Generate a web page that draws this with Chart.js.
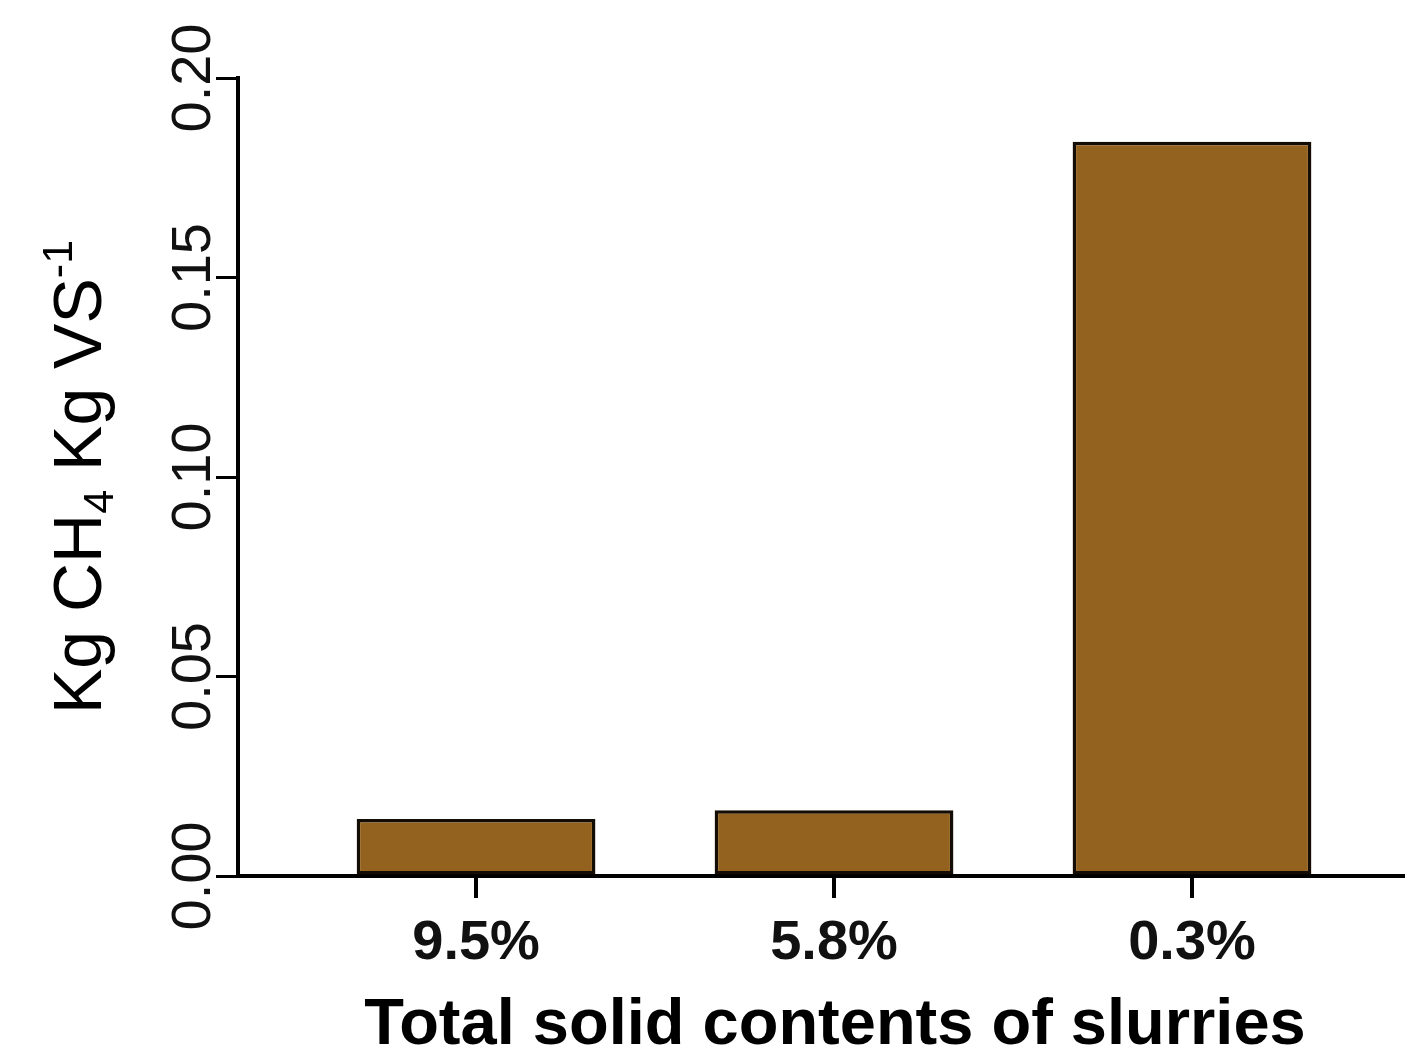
<!DOCTYPE html>
<html>
<head>
<meta charset="utf-8">
<script src="https://cdn.jsdelivr.net/npm/chart.js@4.4.0/dist/chart.umd.min.js"></script>
<style>
  html, body { margin: 0; padding: 0; background: #fff; }
  #wrap { width: 1405px; height: 1050px; position: relative; }
</style>
</head>
<body>
<div id="wrap"><canvas id="c" width="1405" height="1050"></canvas></div>
<script>
// ---- data ----
const categories = ['9.5%', '5.8%', '0.3%'];
const methaneYield = [0.0143, 0.0165, 0.184];
const yTickValues = [0.00, 0.05, 0.10, 0.15, 0.20];
const yTickLabels = ['0.00', '0.05', '0.10', '0.15', '0.20'];
const xAxisTitle = 'Total solid contents of slurries';
const yTitleParts = [
  { text: 'Kg CH', kind: 'n' },
  { text: '4', kind: 'sub' },
  { text: ' Kg VS', kind: 'n' },
  { text: '-1', kind: 'sup' }
];

const FONT = '"Liberation Sans", Arial, Helvetica, sans-serif';

const points = methaneYield.map((v, i) => ({ x: i, y: v }));

const textPlugin = {
  id: 'axisTexts',
  afterDraw(chart) {
    const ctx = chart.ctx;
    const ys = chart.scales.y;
    ctx.save();
    ctx.fillStyle = '#111';
    ctx.font = '56px ' + FONT;
    ctx.textAlign = 'center';
    ctx.textBaseline = 'alphabetic';
    yTickValues.forEach((v, i) => {
      const py = ys.getPixelForValue(v);
      ctx.save();
      ctx.translate(ys.right - 28, py);
      ctx.rotate(-Math.PI / 2);
      ctx.fillText(yTickLabels[i], 0, 0);
      ctx.restore();
    });
    // x axis title
    ctx.save();
    ctx.fillStyle = '#000';
    ctx.font = 'bold 65px ' + FONT;
    ctx.textAlign = 'center';
    ctx.fillText(xAxisTitle, 835, 1044);
    ctx.restore();
    // y axis title with sub/superscript
    const big = 68, small = 43;
    const segs = yTitleParts.map(p => {
      const f = (p.kind === 'n' ? big : small) + 'px ' + FONT;
      ctx.font = f;
      return { ...p, font: f, w: ctx.measureText(p.text).width };
    });
    const total = segs.reduce((a, s) => a + s.w, 0);
    const cy = (chart.chartArea.top + chart.chartArea.bottom) / 2;
    ctx.fillStyle = '#000';
    ctx.translate(101, cy);
    ctx.rotate(-Math.PI / 2);
    ctx.textAlign = 'left';
    let x = -total / 2;
    segs.forEach(s => {
      ctx.font = s.font;
      let dy = 0;
      if (s.kind === 'sub') dy = 12;
      if (s.kind === 'sup') dy = -29;
      ctx.fillText(s.text, x, dy);
      x += s.w;
    });
    ctx.restore();
  }
};

new Chart(document.getElementById('c'), {
  type: 'bar',
  data: {
    datasets: [{
      data: points,
      backgroundColor: 'rgb(148,98,31)',
      borderColor: '#140d05',
      borderWidth: 3.5,
      borderSkipped: false,
      barPercentage: 0.667,
      categoryPercentage: 1.0
    }]
  },
  options: {
    responsive: false,
    animation: false,
    devicePixelRatio: 1,
    layout: { padding: { left: 0, right: 0, top: 78, bottom: 0 } },
    plugins: { legend: { display: false }, tooltip: { enabled: false } },
    scales: {
      x: {
        type: 'linear',
        offset: false,
        min: -0.665,
        max: 2.595,
        afterBuildTicks(scale) { scale.ticks = categories.map((c, i) => ({ value: i })); },
        afterFit(scale) { scale.height = 174; },
        ticks: {
          autoSkip: false,
          maxRotation: 0,
          minRotation: 0,
          padding: 12,
          color: '#111',
          font: { family: FONT, size: 56, weight: 'bold' },
          callback: (v) => categories[v] ?? ''
        },
        grid: { offset: false, drawOnChartArea: false, drawTicks: true, tickLength: 22, color: '#000', lineWidth: 4 },
        border: { display: true, color: '#000', width: 4 },
        title: { display: false }
      },
      y: {
        min: 0,
        max: 0.2,
        afterBuildTicks(scale) { scale.ticks = yTickValues.map(v => ({ value: v })); },
        afterFit(scale) { scale.width = 238; },
        ticks: { display: false },
        grid: { drawOnChartArea: false, drawTicks: true, tickLength: 22, color: '#000', lineWidth: 3 },
        border: { display: true, color: '#000', width: 4 }
      }
    }
  },
  plugins: [textPlugin]
});
</script>
</body>
</html>
